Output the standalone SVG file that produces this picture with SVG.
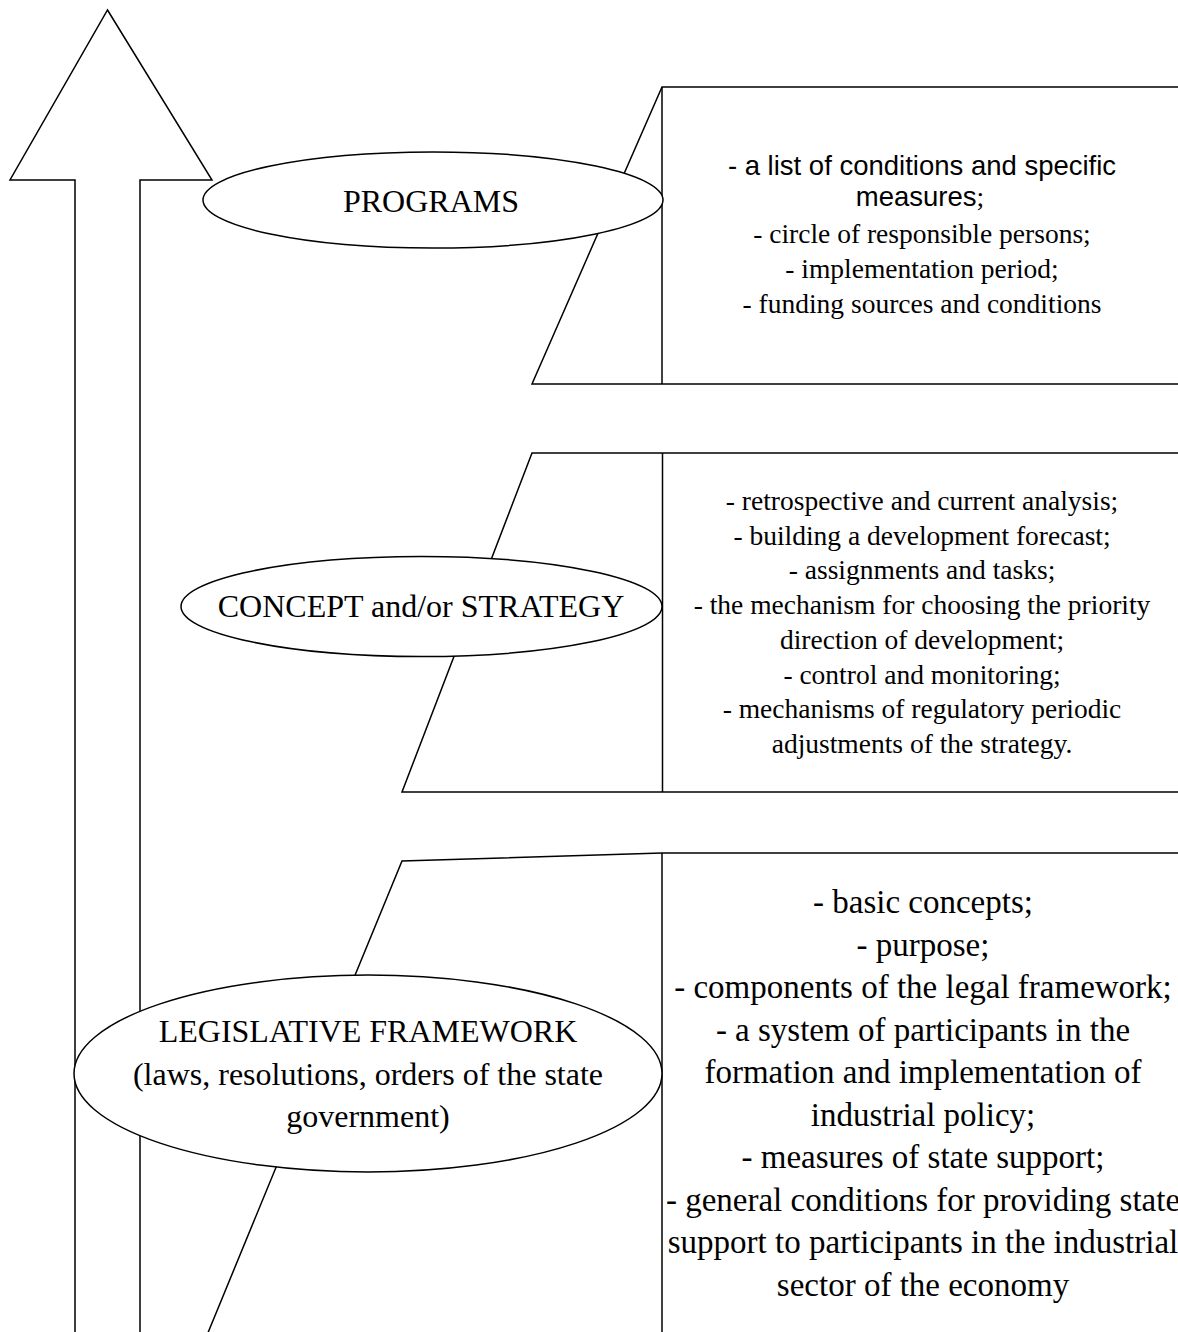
<svg xmlns="http://www.w3.org/2000/svg" width="1178" height="1332" viewBox="0 0 1178 1332">
  <style>
    .ln { fill: none; stroke: #000; stroke-width: 1.5; }
    .shape { fill: #fff; stroke: #000; stroke-width: 1.5; }
    .serif { font-family: "Liberation Serif", "Times New Roman", serif; fill: #000; text-anchor: middle; }
    .sans { font-family: "Liberation Sans", Arial, sans-serif; fill: #000; text-anchor: middle; }
    .head { font-size: 32px; }
    .small { font-size: 27.5px; }
    .big { font-size: 33px; }
  </style>
  <rect width="1178" height="1332" fill="#fff"/>

  <!-- upward arrow along the left edge -->
  <g id="arrow">
    <polygon class="shape" points="107.5,10 212,180 140,180 140,1340 75,1340 75,180 10,180"/>
  </g>

  <!-- callout frames and their lists -->
  <g id="programs-box">
    <polyline class="ln" points="1180,87 662,87 532,384 1180,384"/>
    <line class="ln" x1="662" y1="87" x2="662" y2="384"/>
    <text class="sans small" x="922" y="175">- a list of conditions and specific</text>
    <text class="sans small" x="920" y="205.5">measures<tspan class="serif">;</tspan></text>
    <text class="serif small" x="922" y="243.3">- circle of responsible persons;</text>
    <text class="serif small" x="922" y="278">- implementation period;</text>
    <text class="serif small" x="922" y="312.7">- funding sources and conditions</text>
  </g>

  <g id="concept-box">
    <polyline class="ln" points="1180,453 532,453 402,792 1180,792"/>
    <line class="ln" x1="662.5" y1="453" x2="662.5" y2="792"/>
    <text class="serif small" x="922" y="510">- retrospective and current analysis;</text>
    <text class="serif small" x="922" y="544.7">- building a development forecast;</text>
    <text class="serif small" x="922" y="579.4">- assignments and tasks;</text>
    <text class="serif small" x="922" y="614.1">- the mechanism for choosing the priority</text>
    <text class="serif small" x="922" y="648.8">direction of development;</text>
    <text class="serif small" x="922" y="683.5">- control and monitoring;</text>
    <text class="serif small" x="922" y="718.2">- mechanisms of regulatory periodic</text>
    <text class="serif small" x="922" y="752.9">adjustments of the strategy.</text>
  </g>

  <g id="legislative-box">
    <polyline class="ln" points="1180,853 662,853 402,861 205,1340"/>
    <line class="ln" x1="662" y1="853" x2="662" y2="1340"/>
    <text class="serif big" x="923" y="913">- basic concepts;</text>
    <text class="serif big" x="923" y="955.5">- purpose;</text>
    <text class="serif big" x="923" y="998">- components of the legal framework;</text>
    <text class="serif big" x="923" y="1040.5">- a system of participants in the</text>
    <text class="serif big" x="923" y="1083">formation and implementation of</text>
    <text class="serif big" x="923" y="1125.5">industrial policy;</text>
    <text class="serif big" x="923" y="1168">- measures of state support;</text>
    <text class="serif big" x="923" y="1210.5">- general conditions for providing state</text>
    <text class="serif big" x="923" y="1253">support to participants in the industrial</text>
    <text class="serif big" x="923" y="1295.5">sector of the economy</text>
  </g>

  <!-- level ellipses drawn over the frames -->
  <g id="programs">
    <ellipse class="shape" cx="433" cy="200" rx="230" ry="48"/>
    <text class="serif head" x="431" y="211.5">PROGRAMS</text>
  </g>

  <g id="concept">
    <ellipse class="shape" cx="421.5" cy="606.5" rx="240.5" ry="50"/>
    <text class="serif head" x="421" y="616.5">CONCEPT and/or STRATEGY</text>
  </g>

  <g id="legislative">
    <ellipse class="shape" cx="368" cy="1073.5" rx="294" ry="98.5"/>
    <text class="serif head" x="368" y="1042">LEGISLATIVE FRAMEWORK</text>
    <text class="serif head" x="368" y="1084.5">(laws, resolutions, orders of the state</text>
    <text class="serif head" x="368" y="1127">government)</text>
  </g>

  <g id="connectors"></g>
</svg>
